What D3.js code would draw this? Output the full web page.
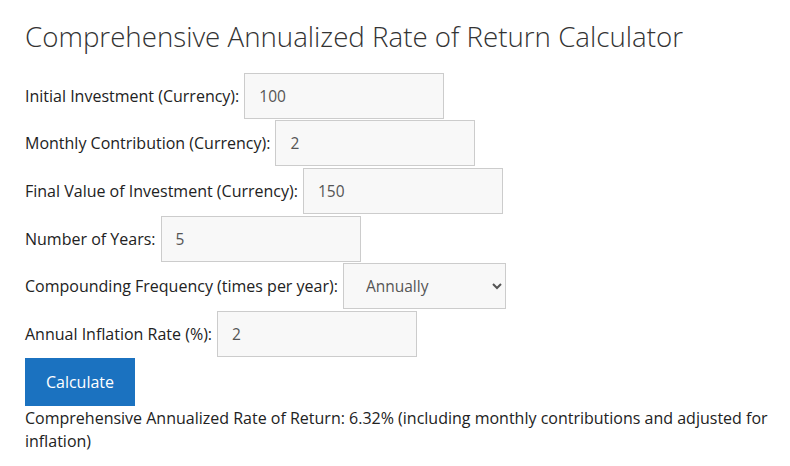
<!DOCTYPE html>
<html><head><meta charset="utf-8">
<script src="https://cdn.jsdelivr.net/npm/d3@7"></script>
<style>
body{margin:0;background:#fff;font-family:"Open Sans",sans-serif;color:#222;}
#app{position:relative;padding:0 25px;}
h1{font-weight:300;font-size:27.7px;color:#333;margin:0;padding-top:17px;height:55px;}
.row{display:flex;align-items:center;height:47.6px;font-size:16px;}
.row label{margin-right:5px;}
.row input,.row select{box-sizing:border-box;height:46px;border:1px solid #ccc;background:#f8f8f8;font-family:inherit;font-size:15.5px;color:#555;padding:0 14px;}
.row input{width:200px;}
.row select{width:163px;padding-left:18px;}
button{margin-top:0;width:110px;height:48px;background:#1b72c0;color:#fff;border:none;font-family:inherit;font-size:16px;}
.res{font-size:16px;margin-top:1px;line-height:23px;width:765px;}
</style></head><body><div id="app"></div>
<script>
var title = "Comprehensive Annualized Rate of Return Calculator";
var fieldLabels = ["Initial Investment (Currency):","Monthly Contribution (Currency):","Final Value of Investment (Currency):","Number of Years:","Compounding Frequency (times per year):","Annual Inflation Rate (%):"];
var fieldValues = ["100","2","150","5","Annually","2"];
var fieldKinds = ["input","input","input","input","select","input"];
var frequencyOptions = ["Annually","Semi-Annually","Quarterly","Monthly","Daily"];
var buttonText = "Calculate";
var resultText = "Comprehensive Annualized Rate of Return: 6.32% (including monthly contributions and adjusted for inflation)";

var app = d3.select("#app");
app.append("h1").text(title);
var rows = app.selectAll(".row").data(fieldLabels).enter().append("div").attr("class","row");
rows.append("label").text(function(d){return d;});
rows.each(function(d,i){
  var r = d3.select(this);
  if (fieldKinds[i] === "select") {
    var s = r.append("select");
    s.selectAll("option").data(frequencyOptions).enter().append("option").text(function(o){return o;})
      .property("selected", function(o){return o === fieldValues[i];});
  } else {
    r.append("input").attr("type","number").property("value", fieldValues[i]);
  }
});
app.append("button").text(buttonText);
app.append("div").attr("class","res").text(resultText);
</script></body></html>
